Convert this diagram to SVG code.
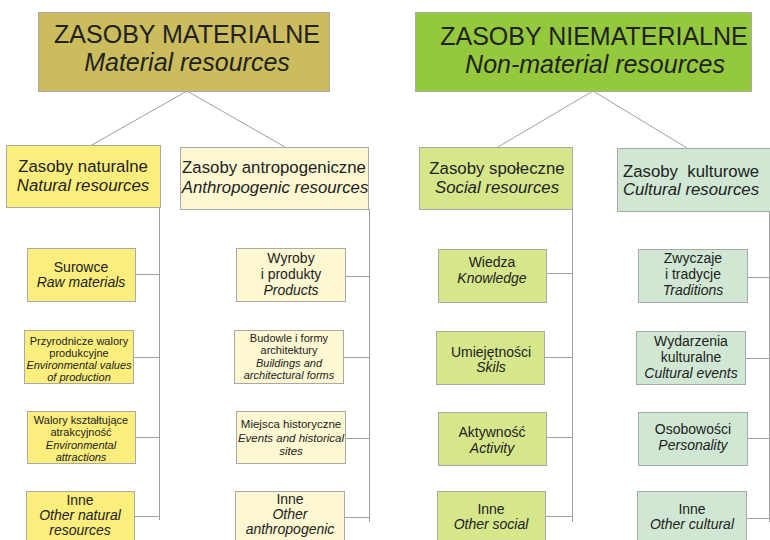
<svg xmlns="http://www.w3.org/2000/svg" width="770" height="540" viewBox="0 0 770 540">
<style>
.box{stroke:#a9a9a9;stroke-width:1}
.t{font-family:"Liberation Sans",Arial,sans-serif;fill:#222;text-anchor:middle}
.i{font-style:italic}
.h1{font-size:25px}
.h2{font-size:16.8px}
.l{font-size:14px}
.s{font-size:11px}
.m{font-size:11.5px}
.c{stroke:#a0a0a0;stroke-width:1;fill:none}
.mat{fill:#cbbc5e}.nat{fill:#fcee7c}.ant{fill:#fdf8d2}
.nm{fill:#94c83d}.soc{fill:#d6e68a}.cul{fill:#cfe7d3}
</style>
<rect width="770" height="540" fill="#fff"/>
<g id="connectors">
<path class="c" d="M187,91 L90,146 M187,91 L285,147"/>
<path class="c" d="M593,91 L498,147 M593,91 L687,148"/>
<path class="c" d="M159.5,207 V520 M135,274.5 H159.5 M133,357.5 H159.5 M135,437.5 H159.5 M134,516.5 H159.5"/>
<path class="c" d="M369.5,209 V522 M345,276.5 H369.5 M343,357.5 H369.5 M345,438.5 H369.5 M344,517.5 H369.5"/>
<path class="c" d="M572.5,209 V522 M546,273.5 H572.5 M544,357.5 H572.5 M546,437.5 H572.5 M545,516.5 H572.5"/>
<path class="c" d="M769.5,211 V522 M747,277.5 H770 M745,358.5 H770 M747,438.5 H770 M746,518.5 H770"/>
</g>
<g id="material">
<rect class="box mat" x="38.5" y="12.5" width="291" height="79"/>
<text class="t h1" x="187" y="43">ZASOBY MATERIALNE</text>
<text class="t h1 i" x="187" y="71">Material resources</text>
</g>
<g id="nonmaterial">
<rect class="box nm" x="415.5" y="12.5" width="336" height="79"/>
<text class="t h1" x="594" y="45">ZASOBY NIEMATERIALNE</text>
<text class="t h1 i" x="595" y="73">Non-material resources</text>
</g>
<g id="natural">
<rect class="box nat" x="6.5" y="145.5" width="154" height="62"/>
<text class="t h2" x="83" y="172">Zasoby naturalne</text>
<text class="t h2 i" x="83" y="191">Natural resources</text>
</g>
<g id="anthropogenic">
<rect class="box ant" x="180.5" y="147.5" width="188" height="62"/>
<text class="t h2" x="274" y="173">Zasoby antropogeniczne</text>
<text class="t h2 i" x="275" y="193">Anthropogenic resources</text>
</g>
<g id="social">
<rect class="box soc" x="419.5" y="147.5" width="153" height="62"/>
<text class="t h2" x="497" y="174">Zasoby społeczne</text>
<text class="t h2 i" x="497" y="193">Social resources</text>
</g>
<g id="cultural">
<rect class="box cul" x="617.5" y="148.5" width="160" height="63"/>
<text class="t h2" x="691" y="177" style="white-space:pre">Zasoby  kulturowe</text>
<text class="t h2 i" x="691" y="195">Cultural resources</text>
</g>
<g id="surowce">
<rect class="box nat" x="27.5" y="248.5" width="108" height="53"/>
<text class="t l" x="81" y="272">Surowce</text>
<text class="t l i" x="81" y="287">Raw materials</text>
</g>
<g id="przyrodnicze">
<rect class="box nat" x="24.5" y="330.5" width="109" height="53"/>
<text class="t s" x="79" y="345">Przyrodnicze walory</text>
<text class="t s" x="79" y="357">produkcyjne</text>
<text class="t s i" x="79" y="369">Environmental values</text>
<text class="t s i" x="79" y="381">of production</text>
</g>
<g id="walory">
<rect class="box nat" x="27.5" y="411.5" width="108" height="52"/>
<text class="t s" x="81" y="424">Walory kształtujące</text>
<text class="t s" x="81" y="436">atrakcyjność</text>
<text class="t s i" x="81" y="449">Environmental</text>
<text class="t s i" x="81" y="461">attractions</text>
</g>
<g id="inne-natural">
<rect class="box nat" x="26.5" y="491.5" width="108" height="60"/>
<text class="t l" x="80" y="505">Inne</text>
<text class="t l i" x="80" y="520">Other natural</text>
<text class="t l i" x="80" y="535">resources</text>
</g>
<g id="wyroby">
<rect class="box ant" x="236.5" y="248.5" width="109" height="53"/>
<text class="t l" x="291" y="263">Wyroby</text>
<text class="t l" x="291" y="279">i produkty</text>
<text class="t l i" x="291" y="295">Products</text>
</g>
<g id="budowle">
<rect class="box ant" x="234.5" y="330.5" width="109" height="53"/>
<text class="t s" x="289" y="342">Budowle i formy</text>
<text class="t s" x="289" y="354">architektury</text>
<text class="t s i" x="289" y="367">Buildings and</text>
<text class="t s i" x="289" y="379">architectural forms</text>
</g>
<g id="miejsca">
<rect class="box ant" x="236.5" y="411.5" width="109" height="52"/>
<text class="t m" x="291" y="428">Miejsca historyczne</text>
<text class="t m i" x="291" y="442">Events and historical</text>
<text class="t m i" x="291" y="455">sites</text>
</g>
<g id="inne-anthropogenic">
<rect class="box ant" x="235.5" y="491.5" width="109" height="60"/>
<text class="t l" x="290" y="504">Inne</text>
<text class="t l i" x="290" y="519">Other</text>
<text class="t l i" x="290" y="534">anthropogenic</text>
</g>
<g id="wiedza">
<rect class="box soc" x="438.5" y="249.5" width="108" height="53"/>
<text class="t l" x="492" y="267">Wiedza</text>
<text class="t l i" x="492" y="283">Knowledge</text>
</g>
<g id="umiejetnosci">
<rect class="box soc" x="436.5" y="331.5" width="108" height="53"/>
<text class="t l" x="491" y="357">Umiejętności</text>
<text class="t l i" x="491" y="372">Skils</text>
</g>
<g id="aktywnosc">
<rect class="box soc" x="438.5" y="412.5" width="108" height="53"/>
<text class="t l" x="492" y="437">Aktywność</text>
<text class="t l i" x="492" y="453">Activity</text>
</g>
<g id="inne-social">
<rect class="box soc" x="437.5" y="491.5" width="108" height="60"/>
<text class="t l" x="491" y="514">Inne</text>
<text class="t l i" x="491" y="529">Other social</text>
</g>
<g id="zwyczaje">
<rect class="box cul" x="638.5" y="249.5" width="109" height="53"/>
<text class="t l" x="693" y="263">Zwyczaje</text>
<text class="t l" x="693" y="279">i tradycje</text>
<text class="t l i" x="693" y="295">Traditions</text>
</g>
<g id="wydarzenia">
<rect class="box cul" x="636.5" y="331.5" width="109" height="53"/>
<text class="t l" x="691" y="346">Wydarzenia</text>
<text class="t l" x="691" y="362">kulturalne</text>
<text class="t l i" x="691" y="378">Cultural events</text>
</g>
<g id="osobowosci">
<rect class="box cul" x="638.5" y="412.5" width="109" height="53"/>
<text class="t l" x="693" y="434">Osobowości</text>
<text class="t l i" x="693" y="450">Personality</text>
</g>
<g id="inne-cultural">
<rect class="box cul" x="637.5" y="491.5" width="109" height="60"/>
<text class="t l" x="692" y="514">Inne</text>
<text class="t l i" x="692" y="529">Other cultural</text>
</g>
</svg>
